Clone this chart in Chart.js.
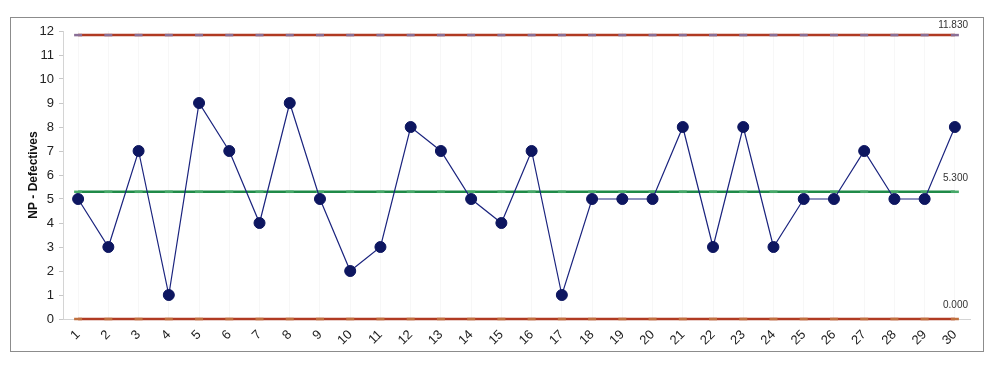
<!DOCTYPE html>
<html>
<head>
<meta charset="utf-8">
<script src="https://cdn.jsdelivr.net/npm/chart.js@4/dist/chart.umd.min.js"></script>
<style>
  html, body { margin: 0; padding: 0; background: #fff; }
  #wrap { width: 991px; height: 369px; position: relative; }
</style>
</head>
<body>
<div id="wrap"><canvas id="c" width="991" height="369"></canvas></div>
<script>
// NP control chart data
var samples = ['1','2','3','4','5','6','7','8','9','10','11','12','13','14','15',
               '16','17','18','19','20','21','22','23','24','25','26','27','28','29','30'];
var defectives = [5,3,7,1,9,7,4,9,5,2,3,8,7,5,4,7,1,5,5,5,8,3,8,3,5,5,7,5,5,8];
var ucl = 11.83;
var centerLine = 5.3;
var lcl = 0;
var yTicks = [0,1,2,3,4,5,6,7,8,9,10,11,12];

function flat(v){ return samples.map(function(){ return v; }); }

var frame = {
  id: 'frame',
  beforeDraw: function(chart){
    var ctx = chart.ctx;
    ctx.save();
    ctx.fillStyle = '#fff';
    ctx.fillRect(0, 0, chart.width, chart.height);
    ctx.strokeStyle = '#8c8c8c';
    ctx.lineWidth = 1;
    ctx.strokeRect(10.5, 17.5, 973, 334);
    ctx.restore();
  }
};

var limitLabels = {
  id: 'limitLabels',
  afterDatasetsDraw: function(chart){
    var ctx = chart.ctx, y = chart.scales.y;
    ctx.save();
    ctx.font = '10px "Liberation Sans", Arial, sans-serif';
    ctx.fillStyle = '#333';
    ctx.textAlign = 'right';
    ctx.textBaseline = 'middle';
    [ucl, centerLine, lcl].forEach(function(v){
      var py = Math.max(y.getPixelForValue(v) - 14, 25);
      ctx.fillText(v.toFixed(3), 968, py);
    });
    ctx.restore();
  }
};

new Chart(document.getElementById('c').getContext('2d'), {
  type: 'line',
  data: {
    labels: samples,
    datasets: [
      {
        label: 'UCL', data: flat(ucl),
        borderColor: '#b03a22', borderWidth: 2.5,
        pointStyle: 'line', pointRadius: 4, pointBorderWidth: 2.5,
        pointBorderColor: '#8a6f96', pointBackgroundColor: '#8a6f96', order: 3
      },
      {
        label: 'CL', data: flat(centerLine),
        borderColor: '#1f8a48', borderWidth: 2.5,
        pointStyle: 'line', pointRadius: 4, pointBorderWidth: 2.5,
        pointBorderColor: '#45a868', pointBackgroundColor: '#45a868', order: 2
      },
      {
        label: 'LCL', data: flat(lcl),
        borderColor: '#b03a22', borderWidth: 2.5,
        pointStyle: 'line', pointRadius: 4, pointBorderWidth: 2.5,
        pointBorderColor: '#c0703f', pointBackgroundColor: '#c0703f', order: 4
      },
      {
        label: 'NP', data: defectives,
        borderColor: '#1a237e', borderWidth: 1.2,
        pointRadius: 5.5, pointBackgroundColor: '#0d1660', pointBorderColor: '#0d1660',
        pointBorderWidth: 1, order: 1
      }
    ]
  },
  options: {
    responsive: false,
    animation: false,
    clip: false,
    layout: { padding: { left: 0, right: 21, top: 31, bottom: 0 } },
    plugins: { legend: { display: false }, tooltip: { enabled: false } },
    scales: {
      x: {
        offset: true,
        afterFit: function(s){ s.height = 50; },
        grid: { color: '#f7f7f7', drawTicks: false, offset: false },
        border: { color: '#d4d4d4' },
        ticks: {
          minRotation: 45, maxRotation: 45, padding: 8,
          color: '#222', font: { family: '"Liberation Sans", Arial, sans-serif', size: 13 }
        }
      },
      y: {
        min: 0, max: 12,
        afterFit: function(s){ s.width = 63; },
        afterBuildTicks: function(s){ s.ticks = yTicks.map(function(v){ return { value: v }; }); },
        grid: { display: true, drawOnChartArea: false, tickLength: 4, color: '#c8c8c8' },
        border: { color: '#d4d4d4' },
        ticks: {
          padding: 5, color: '#222',
          font: { family: '"Liberation Sans", Arial, sans-serif', size: 13 }
        },
        title: {
          display: true, text: 'NP - Defectives', color: '#111', padding: { top: 26, bottom: 0 },
          font: { family: '"Liberation Sans", Arial, sans-serif', size: 12, weight: 'bold' }
        }
      }
    }
  },
  plugins: [frame, limitLabels]
});
</script>
</body>
</html>
